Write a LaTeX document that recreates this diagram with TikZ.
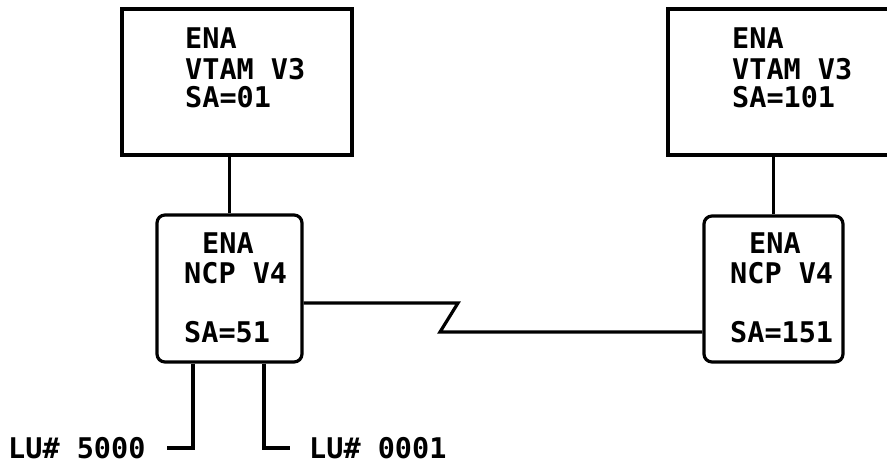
\documentclass[tikz,border=0pt]{standalone}
\usepackage{fontspec}
\setmonofont{DejaVu Sans Mono}
\begin{document}
\begin{tikzpicture}[x=1pt,y=-1pt,
  ln/.style={line width=3.2pt,line join=miter},
  hostbox/.style={draw,line width=3.2pt,rectangle,inner sep=0pt},
  ncpbox/.style={draw,line width=3.2pt,rectangle,rounded corners=8pt,inner sep=0pt},
  txt/.style={inner sep=0pt,anchor=base west,font=\fontsize{28.5}{32}\selectfont\ttfamily\bfseries}]
\useasboundingbox (0,0) rectangle (887,464);
% host boxes
\node[hostbox,minimum width=230pt,minimum height=146pt] (vtamL) at (237,82) {};
\node[hostbox,minimum width=230pt,minimum height=146pt] (vtamR) at (783,82) {};
% NCP boxes
\node[ncpbox,minimum width=145pt,minimum height=147pt] (ncpL) at (229.5,288.5) {};
\node[ncpbox,minimum width=139pt,minimum height=146pt] (ncpR) at (773.5,289) {};
% texts
\node[txt] (tL1) at (185,48) {ENA};
\node[txt] (tL2) at (185,79) {VTAM V3};
\node[txt] (tL3) at (185,107) {SA=01};
\node[txt] (tR1) at (732,48) {ENA};
\node[txt] (tR2) at (732,79) {VTAM V3};
\node[txt] (tR3) at (732,107) {SA=101};
\node[txt] (nL1) at (202,253) {ENA};
\node[txt] (nL2) at (184,283) {NCP V4};
\node[txt] (nL3) at (184,342) {SA=51};
\node[txt] (nR1) at (749,253) {ENA};
\node[txt] (nR2) at (730,283) {NCP V4};
\node[txt] (nR3) at (730,342) {SA=151};
\node[txt] (lu1) at (8,458) {LU\# 5000};
\node[txt] (lu2) at (309,458) {LU\# 0001};
% connectors host-NCP
\draw[ln] (ncpL.north) -- (ncpL.north |- vtamL.south);
\draw[ln] (ncpR.north) -- (ncpR.north |- vtamR.south);
% link with break
\coordinate (z1) at (458,303);
\coordinate (z2) at (440,332);
\draw[ln] (ncpL.east |- z1) -- (z1) -- (z2) -- (ncpR.west |- z2);
% LU lines
\coordinate (a1) at (193,448);
\coordinate (a2) at (167,448);
\coordinate (b1) at (264,448);
\coordinate (b2) at (290,448);
\draw[ln] (ncpL.south -| a1) -- (a1) -- (a2);
\draw[ln] (ncpL.south -| b1) -- (b1) -- (b2);
\end{tikzpicture}
\end{document}
